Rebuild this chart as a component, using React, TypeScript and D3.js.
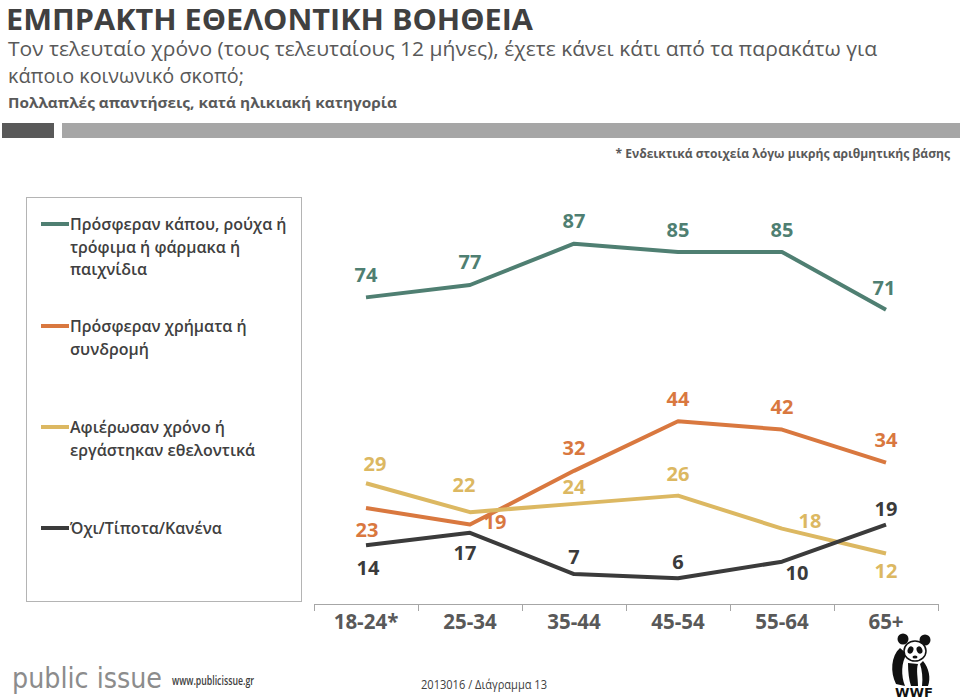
import React from "react";
import * as d3 from "d3";

const categories = ["18-24*", "25-34", "35-44", "45-54", "55-64", "65+"];
const seriesNames = [
  "Πρόσφεραν κάπου, ρούχα ή τρόφιμα ή φάρμακα ή παιχνίδια",
  "Πρόσφεραν χρήματα ή συνδρομή",
  "Αφιέρωσαν χρόνο ή εργάστηκαν εθελοντικά",
  "Όχι/Τίποτα/Κανένα",
];
const goods = [74, 77, 87, 85, 85, 71];
const money = [23, 19, 32, 44, 42, 34];
const time = [29, 22, 24, 26, 18, 12];
const nothing = [14, 17, 7, 6, 10, 19];
const seriesValues = [goods, money, time, nothing];
const colors = ["#4f7f72", "#d9783f", "#dcb862", "#3b3b3b"];

// label offsets (dx, dy) relative to point
const labelOffsets = [
  [[0, -22], [0, -23], [0, -23], [0, -22], [0, -22], [-2, -22]],
  [[1, 22], [25, -3], [0, -23], [0, -22], [0, -23], [0, -23]],
  [[9, -19], [-6, -27], [0, -17], [0, -22], [28, -8], [0, 18]],
  [[2, 23], [-5, 20], [0, -17], [0, -16], [15, 11], [0, -16]],
];
const legendLines = [
  ["Πρόσφεραν κάπου, ρούχα ή", "τρόφιμα ή φάρμακα ή", "παιχνίδια"],
  ["Πρόσφεραν χρήματα ή", "συνδρομή"],
  ["Αφιέρωσαν χρόνο ή", "εργάστηκαν εθελοντικά"],
  ["Όχι/Τίποτα/Κανένα"],
];
const legendY = [224, 326, 427, 528];

const FONT = "'Open Sans', 'DejaVu Sans', sans-serif";

export default function App() {
  const x = d3.scaleBand().domain(categories).range([314, 938]);
  const y = d3.scaleLinear().domain([0, 100]).range([603, 190]);
  const line = d3
    .line<number>()
    .x((_, i) => (x(categories[i]) as number) + x.bandwidth() / 2)
    .y((v) => y(v));

  return (
    <div style={{ position: "absolute", left: 0, top: 0 }}>
      <svg width={960} height={700} style={{ display: "block", background: "#fff" }} fontFamily={FONT}>
        <text x={6} y={30} fontSize={28} fontWeight={700} fill="#404040" textLength={527} lengthAdjust="spacingAndGlyphs">
          ΕΜΠΡΑΚΤΗ ΕΘΕΛΟΝΤΙΚΗ ΒΟΗΘΕΙΑ
        </text>
        <text x={8} y={56} fontSize={20} fill="#595959" textLength={869} lengthAdjust="spacingAndGlyphs">
          Τον τελευταίο χρόνο (τους τελευταίους 12 μήνες), έχετε κάνει κάτι από τα παρακάτω για
        </text>
        <text x={8} y={83} fontSize={20} fill="#595959" textLength={236} lengthAdjust="spacingAndGlyphs">
          κάποιο κοινωνικό σκοπό;
        </text>
        <text x={8} y={108} fontSize={14.5} fontWeight={700} fill="#595959" textLength={389} lengthAdjust="spacingAndGlyphs">
          Πολλαπλές απαντήσεις, κατά ηλικιακή κατηγορία
        </text>
        <rect x={2} y={123} width={52} height={15} fill="#595959" />
        <rect x={62} y={123} width={898} height={15} fill="#a6a6a6" />
        <text x={950} y={158} fontSize={12.1} fontWeight={700} fill="#595959" textAnchor="end">
          * Ενδεικτικά στοιχεία λόγω μικρής αριθμητικής βάσης
        </text>

        {/* legend box */}
        <rect x={26.5} y={197.5} width={275} height={404} fill="none" stroke="#b4b4b4" strokeWidth={1} />
        {seriesNames.map((name, si) => (
          <g key={name}>
            <line x1={41} x2={69} y1={legendY[si]} y2={legendY[si]} stroke={colors[si]} strokeWidth={4} />
            {legendLines[si].map((t, li) => (
              <text key={li} x={70} y={legendY[si] + 6 + li * 22.5} fontSize={16} fontWeight={600} fill="#404040">
                {t}
              </text>
            ))}
          </g>
        ))}

        {/* axis */}
        <line x1={314} x2={938} y1={604.5} y2={604.5} stroke="#a6a6a6" strokeWidth={1} />
        {d3.range(categories.length + 1).map((i) => {
          const tx = Math.round(314 + i * x.step()) + 0.5;
          return <line key={i} x1={tx} x2={tx} y1={604} y2={611} stroke="#a6a6a6" strokeWidth={1} />;
        })}
        {categories.map((c) => (
          <text key={c} x={(x(c) as number) + x.bandwidth() / 2} y={629} fontSize={20.5} fontWeight={700} fill="#595959" textAnchor="middle">
            {c}
          </text>
        ))}

        {/* lines */}
        {seriesValues.map((vals, si) => (
          <path key={si} d={line(vals) as string} fill="none" stroke={colors[si]} strokeWidth={4} strokeLinejoin="round" />
        ))}
        {seriesValues.map((vals, si) =>
          vals.map((v, i) => {
            const px = (x(categories[i]) as number) + x.bandwidth() / 2;
            const [dx, dy] = labelOffsets[si][i];
            return (
              <text key={`${si}-${i}`} x={px + dx} y={y(v) + dy} dy="0.35em" fontSize={20} fontWeight={700} fill={colors[si]} textAnchor="middle">
                {v}
              </text>
            );
          })
        )}

        {/* footer */}
        <text x={12} y={688} fontSize={29} fill="#8c8c8c" fontFamily="'DejaVu Sans', sans-serif" textLength={150} lengthAdjust="spacingAndGlyphs">
          public issue
        </text>
        <text x={172} y={685} fontSize={12} fontWeight={600} fill="#404040" textLength={82} lengthAdjust="spacingAndGlyphs">
          www.publicissue.gr
        </text>
        <text x={421} y={689} fontSize={12} fill="#404040" textLength={126} lengthAdjust="spacingAndGlyphs">
          2013016 / Διάγραμμα 13
        </text>

        {/* WWF logo */}
        <g transform="translate(913,656)">
          <circle cx={-10} cy={-17} r={5.5} fill="#111" />
          <circle cx={12} cy={-16} r={5.5} fill="#111" />
          <path d="M-13,-8 C-22,0 -23,16 -17,28 L-8,30 C-12,20 -12,6 -6,-2 Z" fill="#111" />
          <ellipse cx={2} cy={-5} rx={11} ry={10} fill="#fff" stroke="#111" strokeWidth={1.5} />
          <ellipse cx={-2.5} cy={-6} rx={2.8} ry={3.8} fill="#111" transform="rotate(20,-2.5,-6)" />
          <ellipse cx={6.5} cy={-6} rx={2.8} ry={3.8} fill="#111" transform="rotate(-20,6.5,-6)" />
          <ellipse cx={2} cy={1} rx={2.5} ry={1.6} fill="#111" />
          <path d="M-5,7 C-5,16 -4,24 -2,30 L5,30 C5,22 3,14 5,8 Z" fill="#111" />
          <path d="M10,5 C16,12 18,22 15,30 L9,30 C10,22 9,14 7,8 Z" fill="#111" />
          <text x={1} y={41} fontSize={13} fontWeight={900} fill="#111" textAnchor="middle" fontFamily="'DejaVu Sans', sans-serif" textLength={38} lengthAdjust="spacingAndGlyphs">
            WWF
          </text>
        </g>
      </svg>
    </div>
  );
}
